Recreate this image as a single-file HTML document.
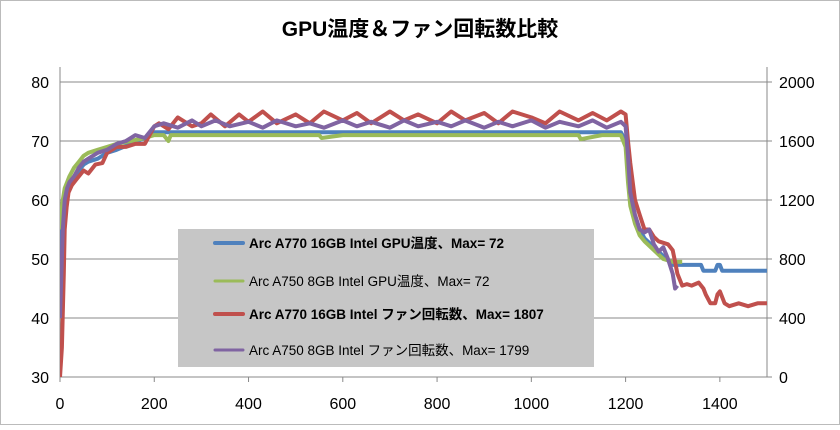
<!DOCTYPE html>
<html><head><meta charset="utf-8">
<style>
html,body{margin:0;padding:0;background:#fff;}
svg text{font-family:"Liberation Sans","Noto Sans CJK JP",sans-serif;}
</style></head>
<body>
<svg width="840" height="425" viewBox="0 0 840 425" xmlns="http://www.w3.org/2000/svg">
<rect x="0.5" y="0.5" width="839" height="424" fill="#fff" stroke="#bbb"/>
<text x="420" y="36" text-anchor="middle" font-size="21" font-weight="bold" fill="#000">GPU温度＆ファン回転数比較</text>
<g id="grid"></g>
<g id="axes"></g>
<g id="series"></g>
<g id="legend">
<rect x="178" y="229" width="416" height="138" fill="#c6c6c6"/>
</g>
</svg>
<script>
// x values (seconds)
const tTemp = [0,3,6,10,15,20,30,40,50,60,80,100,120,150,180,200,230,260,300,350,400,450,500,550,600,650,700,750,800,850,900,950,1000,1050,1100,1150,1190,1200,1205,1210,1220,1230,1240,1260,1280,1300,1320,1340,1360,1365,1380,1390,1395,1400,1405,1420,1460,1500];
const a770Temp = [50,54,57,59,61,62,64,65,66,66.5,67,68,68.5,69.5,70.5,71.5,71.5,71.5,71.5,71.5,71.5,71.5,71.5,71.5,71.5,71.5,71.5,71.5,71.5,71.5,71.5,71.5,71.5,71.5,71.5,71.5,71.5,70,65,61,57,55,53.5,52,50.5,49,49,49,49,48,48,48,49,49,48,48,48,48];
const tTemp2 = [0,3,6,10,15,20,30,40,50,60,80,100,120,150,180,200,220,230,235,260,300,400,500,550,555,600,700,800,900,1000,1050,1100,1105,1150,1190,1200,1205,1210,1220,1230,1240,1260,1280,1300,1320];
const a750Temp = [55,58,60,62,63,64,65.5,66.5,67.5,68,68.5,69,69.5,70,70.5,71,71,70,71,71,71,71,71,71,70.5,71,71,71,71,71,71,71,70.3,71,71,69,63,59,56,54,53,51.5,50,49.5,49.5];
const tFan1 = [0,4,8,10,14,18,25,35,50,60,75,90,100,120,140,160,180,200,210,230,250,280,300,320,350,380,400,430,460,500,530,560,600,630,660,700,730,760,800,830,860,900,930,960,1000,1030,1060,1100,1130,1160,1190,1200,1205,1210,1220,1230,1240,1250,1260,1270,1280,1290,1300,1305,1310,1320,1330,1340,1355,1365,1370,1380,1390,1395,1400,1410,1420,1440,1460,1480,1500];
const a770Fan = [0,200,700,1000,1150,1250,1300,1340,1400,1380,1440,1450,1520,1560,1560,1580,1580,1700,1720,1680,1760,1700,1720,1780,1700,1780,1730,1800,1720,1780,1720,1800,1740,1790,1720,1800,1740,1780,1720,1800,1740,1790,1720,1800,1760,1720,1800,1740,1790,1740,1800,1780,1600,1450,1200,1100,1000,1000,950,920,910,900,860,780,700,620,630,620,640,600,560,500,500,560,580,500,480,500,480,500,500];
const tFan2 = [0,3,6,10,15,20,30,40,50,60,80,100,120,140,160,180,200,220,250,280,300,330,360,400,430,460,500,530,560,600,630,660,700,730,760,800,830,860,900,930,960,1000,1030,1060,1100,1130,1160,1190,1200,1205,1210,1220,1230,1240,1250,1260,1270,1280,1290,1300,1305,1310];
const a750Fan = [400,700,1000,1200,1280,1320,1360,1420,1460,1480,1520,1540,1580,1600,1640,1620,1700,1720,1690,1740,1700,1740,1700,1730,1690,1740,1700,1720,1690,1740,1700,1730,1690,1740,1700,1730,1700,1740,1690,1730,1700,1740,1690,1730,1700,1740,1690,1730,1700,1500,1250,1100,1000,980,1000,900,850,880,800,700,600,620];
const xTicks = [0,200,400,600,800,1000,1200,1400];
const yLeftTicks = [30,40,50,60,70,80];
const yRightTicks = [0,400,800,1200,1600,2000];

const X0=60,X1=767,YT=82,YB=377;
const xs=v=>X0+(v/1500)*(X1-X0);
const yl=v=>YB-(v-30)/50*(YB-YT);
const yr=v=>YB-(v/2000)*(YB-YT);
const NS='http://www.w3.org/2000/svg';
function mk(tag,attrs,parent,txt){const e=document.createElementNS(NS,tag);for(const k in attrs)e.setAttribute(k,attrs[k]);if(txt!==undefined)e.textContent=txt;parent.appendChild(e);return e;}
const grid=document.getElementById('grid'),axes=document.getElementById('axes'),ser=document.getElementById('series');
yLeftTicks.forEach(v=>{
  const g=mk('line',{x1:X0,x2:X1,y1:yl(v),y2:yl(v),stroke:'#888','stroke-width':1},grid);
  
  
  const t=mk('text',{x:X0-11,y:yl(v)+6,'text-anchor':'end','font-size':16,fill:'#000'},axes,String(v));
  
  
});
yRightTicks.forEach(v=>{
  const t=mk('text',{x:X1+12,y:yr(v)+6,'font-size':16,fill:'#000'},axes,String(v));
  
  
  mk('line',{x1:X1,x2:X1+5,y1:yr(v),y2:yr(v),stroke:'#888'},axes);
});
xTicks.forEach(v=>{
  const t=mk('text',{x:xs(v),y:YB+32,'text-anchor':'middle','font-size':16,fill:'#000'},axes,String(v));
  
  
  mk('line',{x1:xs(v),x2:xs(v),y1:YB,y2:YB+5,stroke:'#888'},axes);
});
const la=mk('line',{x1:X0,x2:X0,y1:YT-15,y2:YB,stroke:'#888'},axes);


const ra=mk('line',{x1:X1,x2:X1,y1:YT-15,y2:YB,stroke:'#888'},axes);


const xa=mk('line',{x1:X0,x2:X1,y1:YB,y2:YB,stroke:'#888'},axes);



const defs=mk('defs',{},ser);
const cp=mk('clipPath',{id:'cp'},defs);
mk('rect',{x:X0,y:YT-20,width:X1-X0,height:YB-YT+20},cp);
function line(ts,vs,yf,color,name){
  const d=ts.map((t,i)=>(i?'L':'M')+xs(t).toFixed(1)+','+yf(vs[i]).toFixed(1)).join('');
  const p=mk('path',{d:d,fill:'none',stroke:color,'stroke-width':4,'stroke-linejoin':'round','clip-path':'url(#cp)'},ser);
  
  
}
line(tTemp,a770Temp,yl,'#4f81bd','series-a770-temp');
line(tTemp2,a750Temp,yl,'#9bbb59','series-a750-temp');
line(tFan1,a770Fan,yr,'#c0504d','series-a770-fan');
line(tFan2,a750Fan,yr,'#8064a2','series-a750-fan');

const leg=document.getElementById('legend');
const entries=[['#4f81bd','Arc A770 16GB Intel GPU温度、Max= 72',true,243],['#9bbb59','Arc A750 8GB Intel GPU温度、Max= 72',false,281],['#c0504d','Arc A770 16GB Intel ファン回転数、Max= 1807',true,314],['#8064a2','Arc A750 8GB Intel ファン回転数、Max= 1799',false,350]];
entries.forEach(e=>{
  const l=mk('line',{x1:215,x2:243,y1:e[3],y2:e[3],stroke:e[0],'stroke-width':e[2]?4:3,'stroke-linecap':'round'},leg);
  
  
  const t=mk('text',{x:249,y:e[3]+5,'font-size':13.5,'font-weight':e[2]?'bold':'normal',fill:'#000'},leg,e[1]);
  
  
});
</script>
</body></html>
